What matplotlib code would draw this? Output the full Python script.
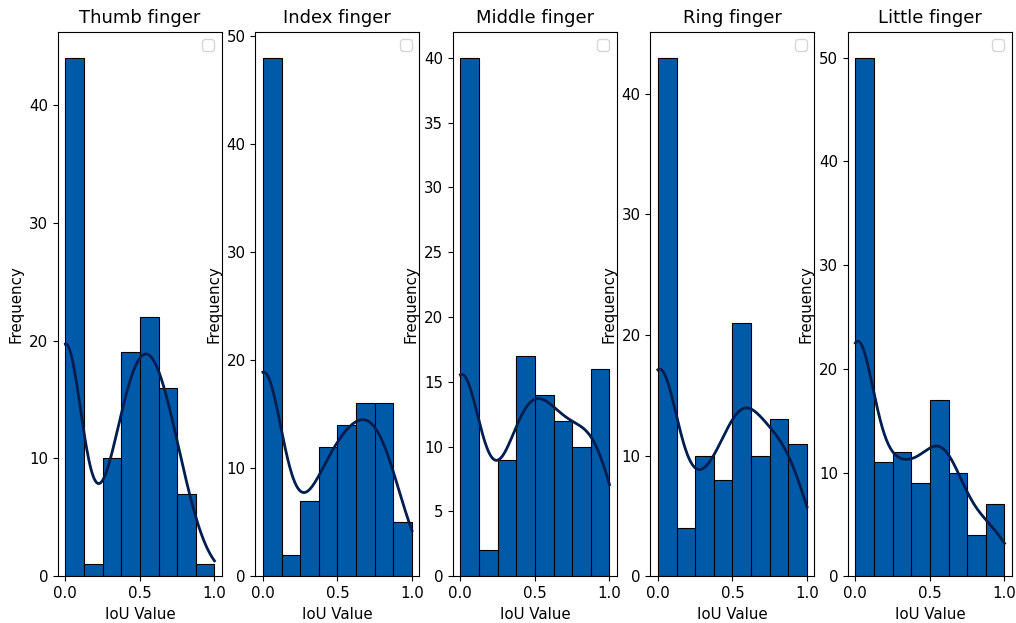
import numpy as np
import matplotlib
matplotlib.use("Agg")
import matplotlib.pyplot as plt

fingers = ["Thumb finger", "Index finger", "Middle finger", "Ring finger", "Little finger"]
bin_edges = np.linspace(0, 1, 9)

thumb = [44, 1, 10, 19, 22, 16, 7, 1]
index = [48, 2, 7, 12, 14, 16, 16, 5]
middle = [40, 2, 9, 17, 14, 12, 10, 16]
ring = [43, 4, 10, 8, 21, 10, 13, 11]
little = [50, 11, 12, 9, 17, 10, 4, 7]
counts_all = [thumb, index, middle, ring, little]

yticks_all = [[0, 10, 20, 30, 40], [0, 10, 20, 30, 40, 50], [0, 5, 10, 15, 20, 25, 30, 35, 40],
              [0, 10, 20, 30, 40], [0, 10, 20, 30, 40, 50]]

bar_col = "#005aa8"
line_col = "#001d4f"

plt.rcParams["font.size"] = 10.8


def kde_curve(centres, w, grid):
    # gaussian kde on binned counts, scott bandwidth (counts = frequency weights)
    w = np.asarray(w, float)
    n = w.sum()
    mean = np.sum(w * centres) / n
    std = np.sqrt(np.sum(w * (centres - mean) ** 2) / (n - 1))
    h = std * n ** (-1 / 5)
    d = (grid[:, None] - centres[None, :]) / h
    dens = np.sum(w * np.exp(-0.5 * d ** 2), axis=1) / (n * h * np.sqrt(2 * np.pi))
    return dens


fig, axes = plt.subplots(1, 5, figsize=(10.16, 6.23), dpi=100)
fig.subplots_adjust(left=0.057, right=0.996, top=0.949, bottom=0.075, wspace=0.204)

centres = (bin_edges[:-1] + bin_edges[1:]) / 2
centres_kde = centres.copy()
centres_kde[0] = 0.0  # the first bin is mostly IoU = 0
grid = np.linspace(0, 1, 300)
bw = bin_edges[1] - bin_edges[0]

for ax, name, counts, yt in zip(axes, fingers, counts_all, yticks_all):
    ax.hist(centres, bins=bin_edges, weights=counts, color=bar_col, edgecolor="black", linewidth=0.8)
    dens = kde_curve(centres_kde, counts, grid)
    ax.plot(grid, dens * sum(counts) * bw, color=line_col, linewidth=2)
    ax.set_title(name, fontsize=13)
    ax.set_xlabel("IoU Value")
    ax.set_ylabel("Frequency")
    ax.set_xticks([0.0, 0.5, 1.0])
    ax.set_yticks(yt)
    ax.legend(loc="upper right")

plt.savefig("out.png", dpi=100)
